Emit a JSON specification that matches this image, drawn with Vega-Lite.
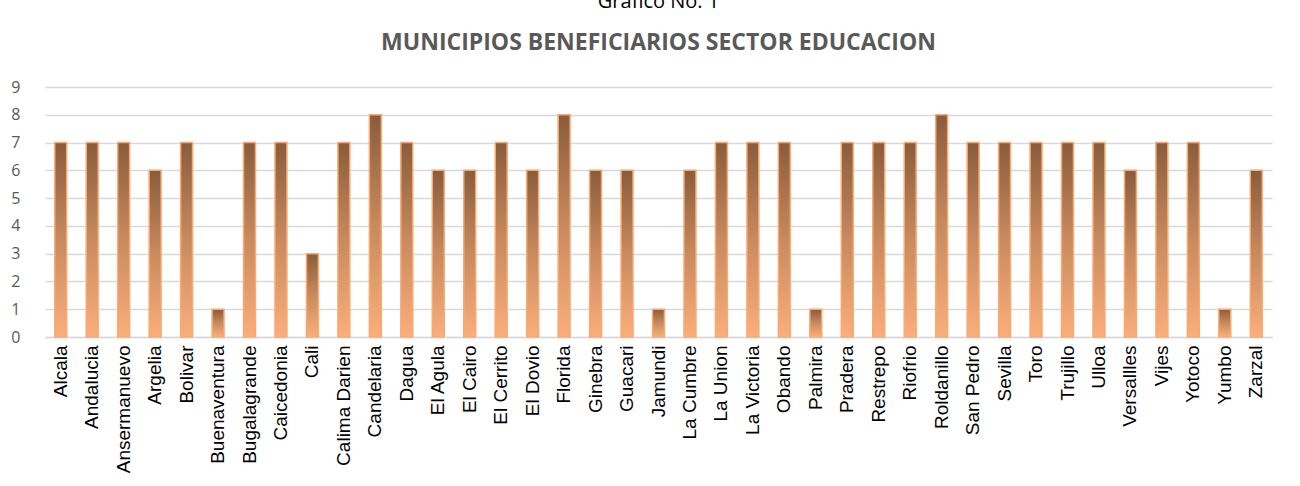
{
  "$schema": "https://vega.github.io/schema/vega-lite/v6.json",
  "autosize": {"type": "none"},
  "width": 1227,
  "height": 250,
  "padding": {"left": 45, "top": 87, "right": 28, "bottom": 149},
  "background": "white",
  "title": {
    "text": "Gráfico No. 1",
    "subtitle": "MUNICIPIOS BENEFICIARIOS SECTOR EDUCACION",
    "anchor": "middle",
    "font": "Open Sans",
    "fontSize": 20,
    "fontWeight": "normal",
    "color": "#000000",
    "subtitleFont": "Open Sans",
    "subtitleFontSize": 23,
    "subtitleFontWeight": "bold",
    "subtitleColor": "#595959",
    "subtitlePadding": 20,
    "offset": 24
  },
  "data": {
    "values": [
      {"municipio": "Alcala", "valor": 7},
      {"municipio": "Andalucia", "valor": 7},
      {"municipio": "Ansermanuevo", "valor": 7},
      {"municipio": "Argelia", "valor": 6},
      {"municipio": "Bolivar", "valor": 7},
      {"municipio": "Buenaventura", "valor": 1},
      {"municipio": "Bugalagrande", "valor": 7},
      {"municipio": "Caicedonia", "valor": 7},
      {"municipio": "Cali", "valor": 3},
      {"municipio": "Calima Darien", "valor": 7},
      {"municipio": "Candelaria", "valor": 8},
      {"municipio": "Dagua", "valor": 7},
      {"municipio": "El Agula", "valor": 6},
      {"municipio": "El Cairo", "valor": 6},
      {"municipio": "El Cerrito", "valor": 7},
      {"municipio": "El Dovio", "valor": 6},
      {"municipio": "Florida", "valor": 8},
      {"municipio": "Ginebra", "valor": 6},
      {"municipio": "Guacari", "valor": 6},
      {"municipio": "Jamundi", "valor": 1},
      {"municipio": "La Cumbre", "valor": 6},
      {"municipio": "La Union", "valor": 7},
      {"municipio": "La Victoria", "valor": 7},
      {"municipio": "Obando", "valor": 7},
      {"municipio": "Palmira", "valor": 1},
      {"municipio": "Pradera", "valor": 7},
      {"municipio": "Restrepo", "valor": 7},
      {"municipio": "Riofrio", "valor": 7},
      {"municipio": "Roldanillo", "valor": 8},
      {"municipio": "San Pedro", "valor": 7},
      {"municipio": "Sevilla", "valor": 7},
      {"municipio": "Toro", "valor": 7},
      {"municipio": "Trujillo", "valor": 7},
      {"municipio": "Ulloa", "valor": 7},
      {"municipio": "Versallles", "valor": 6},
      {"municipio": "Vijes", "valor": 7},
      {"municipio": "Yotoco", "valor": 7},
      {"municipio": "Yumbo", "valor": 1},
      {"municipio": "Zarzal", "valor": 6}
    ]
  },
  "mark": {
    "type": "bar",
    "stroke": "#f8aa74",
    "strokeWidth": 1.5,
    "color": {
      "gradient": "linear",
      "x1": 0, "y1": 0, "x2": 0, "y2": 1,
      "stops": [
        {"offset": 0, "color": "#8a5c3c"},
        {"offset": 0.5, "color": "#c98a5e"},
        {"offset": 1, "color": "#fbae7b"}
      ]
    }
  },
  "encoding": {
    "x": {
      "field": "municipio",
      "type": "nominal",
      "sort": null,
      "scale": {"paddingInner": 0.62, "paddingOuter": 0.31},
      "axis": {
        "title": null,
        "labelAngle": -90,
        "labelFont": "Liberation Sans",
        "labelFontSize": 19,
        "labelColor": "#000000",
        "labelPadding": 8,
        "ticks": false,
        "domain": true,
        "domainColor": "#d9d9d9",
        "domainWidth": 1.5,
        "labelLimit": 200
      }
    },
    "y": {
      "field": "valor",
      "type": "quantitative",
      "scale": {"domain": [0, 9], "nice": false},
      "axis": {
        "title": null,
        "values": [0, 1, 2, 3, 4, 5, 6, 7, 8, 9],
        "labelFont": "Open Sans",
        "labelFontSize": 16,
        "labelColor": "#595959",
        "labelPadding": 25,
        "ticks": false,
        "domain": false,
        "grid": true,
        "gridColor": "#d9d9d9",
        "gridWidth": 1.5
      }
    }
  },
  "config": {
    "view": {"stroke": null}
  }
}
